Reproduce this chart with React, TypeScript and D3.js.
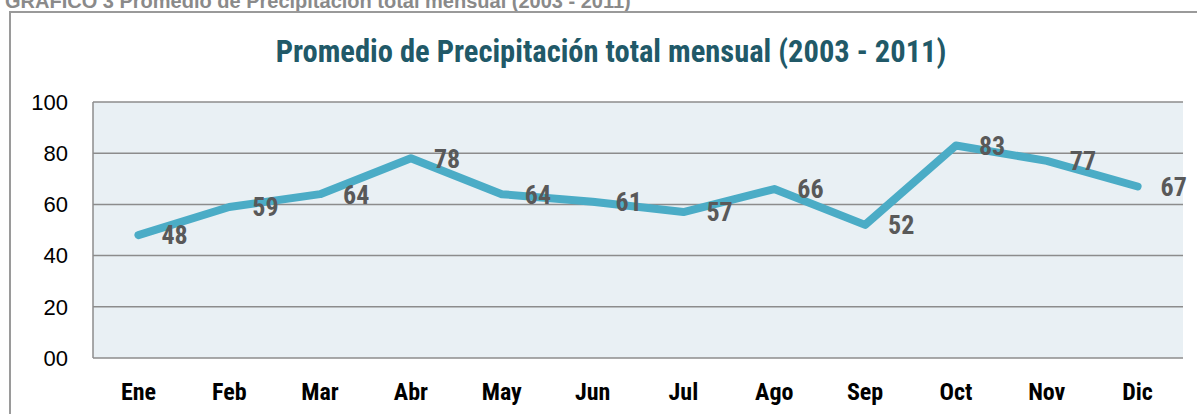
import React, { useEffect, useRef } from "react";
import * as d3 from "d3";

const months = ["Ene", "Feb", "Mar", "Abr", "May", "Jun", "Jul", "Ago", "Sep", "Oct", "Nov", "Dic"];
const rainfall = [48, 59, 64, 78, 64, 61, 57, 66, 52, 83, 77, 67];
const yTicks = [0, 20, 40, 60, 80, 100];
const yTickLabels = ["00", "20", "40", "60", "80", "100"];

const narrow = "'Liberation Sans Narrow', 'Arial Narrow', 'Roboto Condensed', sans-serif";

const App: React.FC = () => {
  const ref = useRef<SVGSVGElement>(null);

  useEffect(() => {
    if (!ref.current) return;
    const svg = d3.select(ref.current);
    svg.selectAll("*").remove();

    const W = 1197;
    const H = 414;
    const plot = { left: 93, right: 1183, top: 102, bottom: 358 };

    // caption above the frame, its top half lies outside the page
    svg.append("text")
      .attr("x", 5)
      .attr("y", 8)
      .attr("font-family", "'Liberation Sans', Arial, sans-serif")
      .attr("font-weight", "bold")
      .attr("font-size", 20)
      .attr("fill", "#8a8a8a")
      .text("GRAFICO 3 Promedio de Precipitación total mensual (2003 - 2011)");

    // outer chart frame
    svg.append("rect")
      .attr("x", 10)
      .attr("y", 12)
      .attr("width", W + 20)
      .attr("height", H + 20)
      .attr("fill", "#ffffff")
      .attr("stroke", "#9a9a9a")
      .attr("stroke-width", 2);

    svg.append("text")
      .attr("x", 611)
      .attr("y", 62)
      .attr("text-anchor", "middle")
      .attr("font-family", narrow)
      .attr("font-weight", "bold")
      .attr("font-size", 30.5)
      .attr("fill", "#215968")
      .text("Promedio de Precipitación total mensual (2003 - 2011)");

    const x = d3.scaleBand<string>().domain(months).range([plot.left, plot.right]);
    const y = d3.scaleLinear().domain([0, 100]).range([plot.bottom, plot.top]);

    svg.append("rect")
      .attr("x", plot.left)
      .attr("y", plot.top)
      .attr("width", plot.right - plot.left)
      .attr("height", plot.bottom - plot.top)
      .attr("fill", "#e9f0f4");

    svg.append("g")
      .selectAll("line")
      .data(yTicks)
      .join("line")
      .attr("x1", plot.left)
      .attr("x2", plot.right)
      .attr("y1", (d) => y(d))
      .attr("y2", (d) => y(d))
      .attr("stroke", "#8c8c8c")
      .attr("stroke-width", 1.5);

    svg.append("line")
      .attr("x1", plot.left)
      .attr("x2", plot.left)
      .attr("y1", plot.top)
      .attr("y2", plot.bottom)
      .attr("stroke", "#8c8c8c")
      .attr("stroke-width", 1.5);

    svg.append("g")
      .selectAll("text")
      .data(yTicks)
      .join("text")
      .attr("x", 68)
      .attr("y", (d) => y(d))
      .attr("dy", "0.35em")
      .attr("text-anchor", "end")
      .attr("font-family", "'Liberation Sans', Arial, sans-serif")
      .attr("font-size", 22)
      .attr("fill", "#000000")
      .text((_, i) => yTickLabels[i]);

    svg.append("g")
      .selectAll("text")
      .data(months)
      .join("text")
      .attr("x", (d) => (x(d) || 0) + x.bandwidth() / 2)
      .attr("y", 400)
      .attr("text-anchor", "middle")
      .attr("font-family", narrow)
      .attr("font-weight", "bold")
      .attr("font-size", 24)
      .attr("fill", "#000000")
      .text((d) => d);

    const pts = months.map((m, i) => ({ m, v: rainfall[i] }));
    const line = d3.line<{ m: string; v: number }>()
      .x((d) => (x(d.m) || 0) + x.bandwidth() / 2)
      .y((d) => y(d.v));

    svg.append("path")
      .datum(pts)
      .attr("d", line)
      .attr("fill", "none")
      .attr("stroke", "#4bacc6")
      .attr("stroke-width", 8)
      .attr("stroke-linecap", "round")
      .attr("stroke-linejoin", "round");

    svg.append("g")
      .selectAll("text")
      .data(pts)
      .join("text")
      .attr("x", (d) => (x(d.m) || 0) + x.bandwidth() / 2 + 23)
      .attr("y", (d) => y(d.v))
      .attr("dy", "0.36em")
      .attr("font-family", narrow)
      .attr("font-weight", "bold")
      .attr("font-size", 26)
      .attr("fill", "#595959")
      .text((d) => String(d.v));
  }, []);

  return (
    <svg
      ref={ref}
      width={1197}
      height={414}
      style={{ position: "absolute", left: 0, top: 0 }}
    />
  );
};

export default App;
